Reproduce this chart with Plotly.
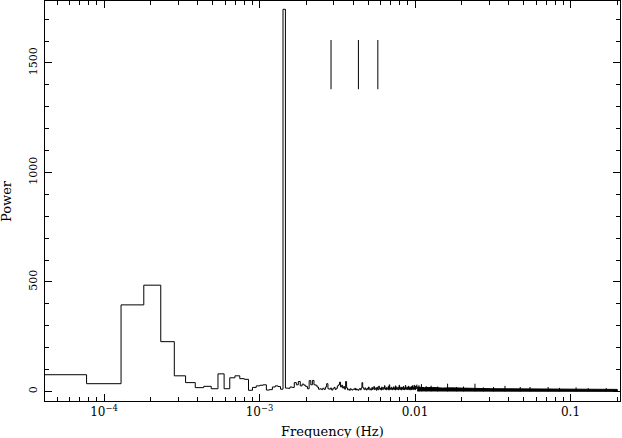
import plotly.graph_objects as go

# ---------------- data ----------------
# Fourier frequency resolution of the periodogram (Hz)
freq_resolution = 5.15e-5

# Power of the individually resolved bins 1..200 (bin k is at k * freq_resolution)
bin_power = [
    76, 35, 395, 485, 227, 71, 40, 17, 23, 12,
    80, 12, 62, 71, 58, 55, 5, 18, 25, 28,
    30, 6, 8, 20, 25, 22, 10, 1745, 15, 14,
    20, 18, 40, 30, 45, 25, 33, 28, 22, 12,
    49, 30, 50, 30, 28, 20, 10, 12, 8, 14,
    9, 20, 35, 12, 10, 15, 6, 12, 18, 9,
    14, 25, 30, 42, 20, 28, 15, 22, 10, 45,
    16, 7, 10, 5, 12, 8, 6, 10, 9, 14,
    6, 11, 8, 5, 10, 13, 7, 15, 40, 18,
    12, 8, 16, 10, 6, 14, 9, 20, 11, 7,
    12, 6, 18, 9, 14, 22, 8, 11, 16, 5,
    19, 10, 7, 24, 13, 9, 15, 6, 20, 11,
    8, 17, 12, 26, 9, 14, 7, 18, 10, 13,
    22, 6, 30, 11, 15, 8, 19, 12, 7, 16,
    10, 21, 9, 14, 6, 25, 11, 17, 8, 13,
    19, 7, 12, 28, 10, 15, 9, 20, 6, 14,
    11, 18, 8, 23, 13, 7, 16, 10, 27, 12,
    9, 15, 20, 8, 14, 11, 24, 7, 17, 10,
    13, 19, 6, 22, 12, 9, 26, 14, 8, 18,
    11, 28, 10, 16, 7, 21, 25, 12, 15, 30,
]

# Dense high-frequency noise: envelope of the unresolved bins
band_freq = [0.01032, 0.0115, 0.013, 0.015, 0.017, 0.02, 0.023, 0.027, 0.032,
             0.038, 0.045, 0.055, 0.065, 0.08, 0.1, 0.12, 0.15, 0.18, 0.2]
band_high = [20, 17, 18, 15, 16, 14, 13, 13, 12,
             12, 11, 11, 10, 10, 10, 10, 9, 9, 9]
band_low = [2, 1, 1, 0, 0, 0, 0, 0, 0,
            0, 0, 0, 0, 0, 0, 0, 0, 0, 0]

# Isolated spikes standing above the dense noise
spike_freq = [0.0106, 0.0110, 0.0118, 0.0127, 0.0140, 0.0162, 0.0185, 0.0205,
              0.0243, 0.0275, 0.0320, 0.0379, 0.0475, 0.0549, 0.0718, 0.0850,
              0.1086, 0.1300, 0.1698]
spike_power = [28, 33, 24, 26, 22, 35, 20, 22,
               35, 18, 20, 25, 20, 20, 20, 16,
               18, 15, 15]

# Harmonic markers (2f, 3f, 4f of the main peak)
harmonic_freq = [2.884e-3, 4.326e-3, 5.768e-3]
harmonic_low = 1380
harmonic_high = 1605

# Axis ticks
x_tick_vals = [1e-4, 1e-3, 1e-2, 1e-1]
x_tick_text = ["10<sup>\u22124</sup>", "10<sup>\u22123</sup>", "0.01", "0.1"]
y_tick_vals = [0, 500, 1000, 1500]
y_tick_text = ["0", "500", "1000", "1500"]

# ---------------- build traces ----------------
n = len(bin_power)
edges = [(k + 0.5) * freq_resolution for k in range(0, n + 1)]
step_x = edges
step_y = bin_power + [bin_power[-1]]

fig = go.Figure()
line_col = "black"

fig.add_trace(go.Scatter(x=step_x, y=step_y, mode="lines", line_shape="hv",
                         line=dict(color=line_col, width=1), hoverinfo="skip"))

# band polygon
bx = band_freq + band_freq[::-1]
by = band_high + band_low[::-1]
fig.add_trace(go.Scatter(x=bx, y=by, mode="lines", fill="toself",
                         fillcolor=line_col, line=dict(color=line_col, width=1),
                         hoverinfo="skip"))

# spikes
sx, sy = [], []
for f, p in zip(spike_freq, spike_power):
    sx += [f, f, None]
    sy += [0, p, None]
fig.add_trace(go.Scatter(x=sx, y=sy, mode="lines",
                         line=dict(color=line_col, width=1), hoverinfo="skip"))

# harmonic markers
hx, hy = [], []
for f in harmonic_freq:
    hx += [f, f, None]
    hy += [harmonic_low, harmonic_high, None]
fig.add_trace(go.Scatter(x=hx, y=hy, mode="lines",
                         line=dict(color=line_col, width=1), hoverinfo="skip"))

font_family = "DejaVu Serif"

minor_x = []
for dec in [1e-5, 1e-4, 1e-3, 1e-2, 1e-1]:
    for m in range(2, 10):
        minor_x.append(m * dec)

fig.update_layout(
    width=622, height=438,
    margin=dict(l=45, r=2, t=1, b=37),
    paper_bgcolor="white", plot_bgcolor="white",
    showlegend=False,
    font=dict(family=font_family, size=11, color="black"),
    xaxis=dict(
        type="log", range=[-4.3794, -0.6817],
        showline=True, linecolor="black", linewidth=1, mirror="allticks",
        ticks="inside", ticklen=7, tickcolor="black", tickwidth=1,
        tickvals=x_tick_vals, ticktext=x_tick_text,
        minor=dict(tickvals=minor_x, ticks="inside", ticklen=4,
                   tickcolor="black", tickwidth=1, showgrid=False),
        showgrid=False, zeroline=False,
        tickfont=dict(family=font_family, size=12),
    ),
    yaxis=dict(
        range=[-44, 1783],
        showline=True, linecolor="black", linewidth=1, mirror="allticks",
        ticks="inside", ticklen=7, tickcolor="black", tickwidth=1,
        tickvals=y_tick_vals, ticktext=y_tick_text, tickangle=-90,
        ticklabelstandoff=3,
        minor=dict(dtick=100, ticks="inside", ticklen=4,
                   tickcolor="black", tickwidth=1, showgrid=False),
        showgrid=False, zeroline=False,
        tickfont=dict(family=font_family, size=11),
    ),
    annotations=[
        dict(text="Frequency (Hz)", xref="paper", yref="paper",
             x=0.5, y=-0.0775, xanchor="center", yanchor="middle",
             showarrow=False, font=dict(family=font_family, size=13)),
        dict(text="Power", xref="paper", yref="paper",
             x=-0.0678, y=0.5, xanchor="center", yanchor="middle",
             textangle=-90, showarrow=False,
             font=dict(family=font_family, size=13)),
    ],
)

fig.write_html("out.html", config={"displayModeBar": False},
               post_script="document.body.style.margin='0';")
